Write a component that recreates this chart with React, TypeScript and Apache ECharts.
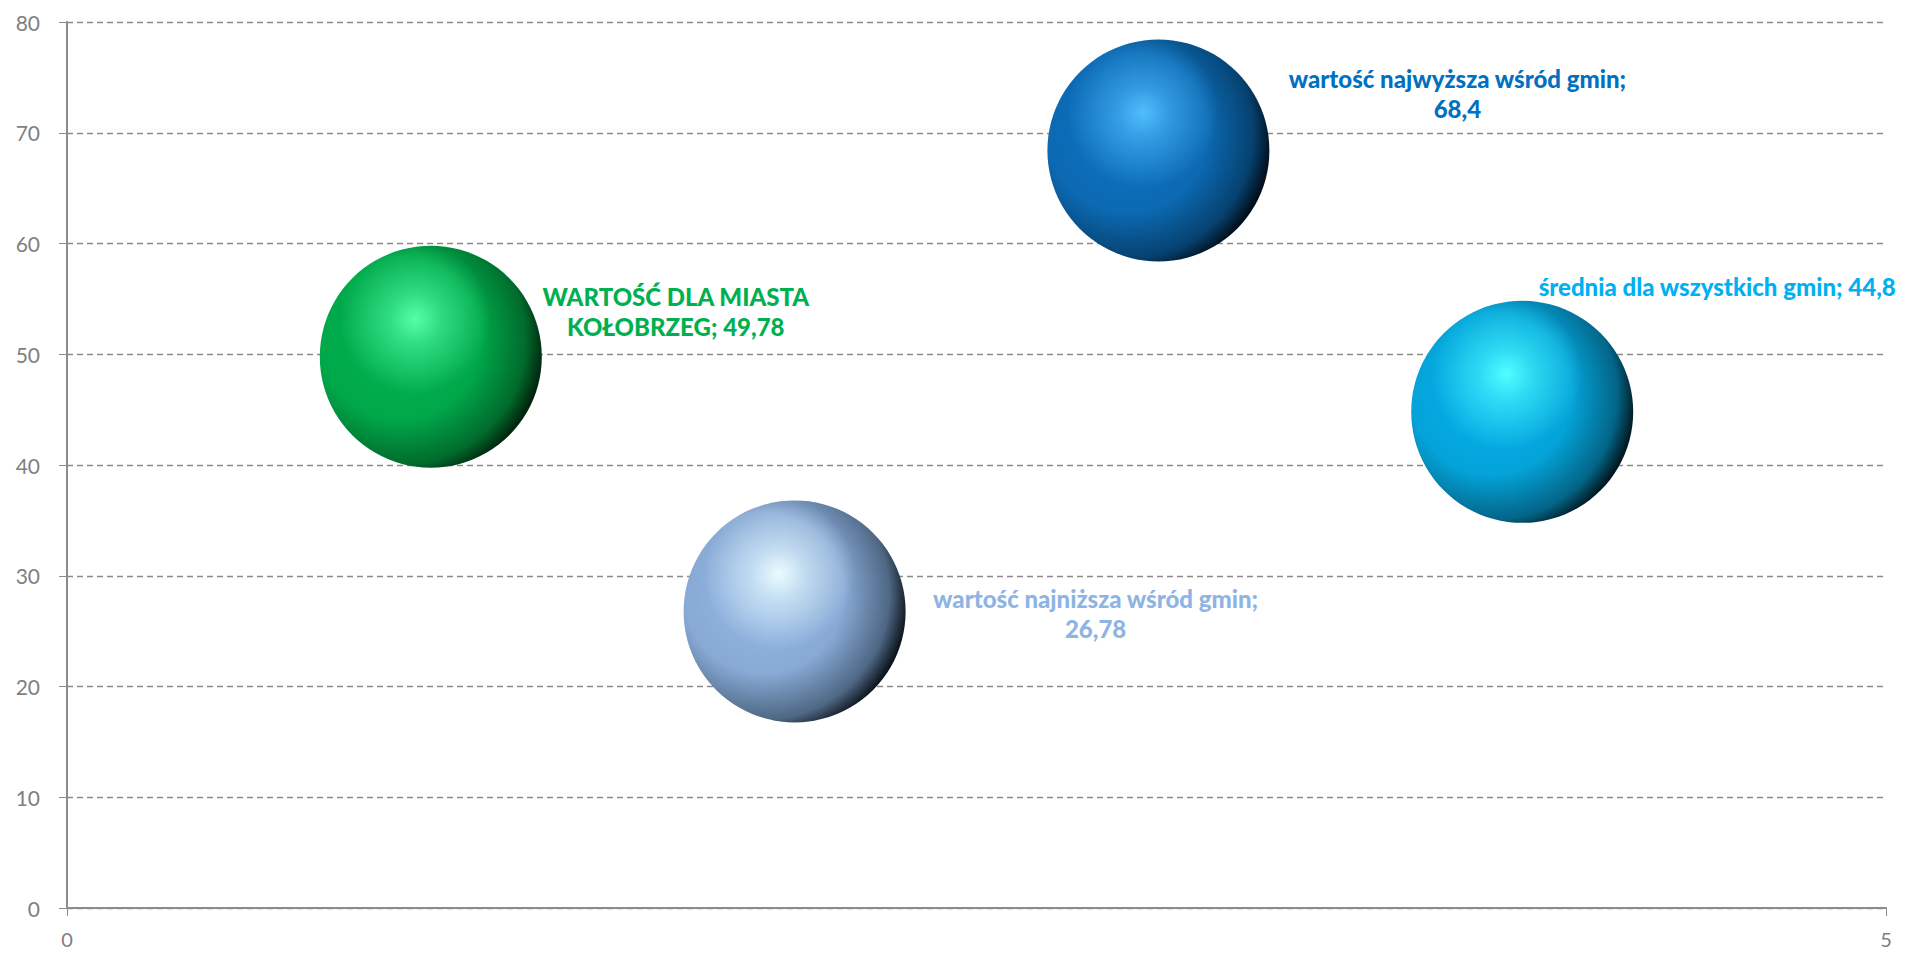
import React, { useEffect, useRef } from "react";
import * as echarts from "echarts";

// ---- data ----
const xValues = [1, 2, 3, 4];
const yValues = [49.78, 26.78, 68.4, 44.8];
const pointNames = [
  "WARTOŚĆ DLA MIASTA\nKOŁOBRZEG",
  "wartość najniższa wśród gmin",
  "wartość najwyższa wśród gmin",
  "średnia dla wszystkich gmin",
];
const nameValueSeparators = ["; ", ";\n", ";\n", "; "];
const yTicks = [0, 10, 20, 30, 40, 50, 60, 70, 80];
const xTicks = [0, 5];

// ---- styles ----
const baseColors = ["#00b050", "#8db4e2", "#0070c0", "#00b0f0"];
// body shading: base, mid, dark, rim
const bodyStops = [
  ["#00b350", "#00a84a", "#006b2c", "#00200b"],
  ["#96bbe8", "#87a9d4", "#4e6784", "#0a1017"],
  ["#0f74c4", "#0c69b2", "#06416f", "#010b15"],
  ["#04b3ee", "#04a3d9", "#036587", "#00131b"],
];
const highlightColors = ["85,255,170", "235,252,255", "80,190,255", "80,255,255"];
const labelOffsets = [
  [245, -45],
  [301, 2],
  [299, -57],
  [195, -125],
];

const fmt = (v: number) => String(v).replace(".", ",");

export default function App() {
  const ref = useRef<HTMLDivElement>(null);
  useEffect(() => {
    if (!ref.current) return;
    const chart = echarts.init(ref.current, undefined, { renderer: "svg" });
    const bodyData = xValues.map((x, i) => ({
      value: [x, yValues[i]],
      itemStyle: {
        opacity: 1,
        color: {
          type: "radial",
          x: 0.36,
          y: 0.42,
          r: 0.66,
          colorStops: [
            { offset: 0, color: bodyStops[i][0] },
            { offset: 0.55, color: bodyStops[i][1] },
            { offset: 0.86, color: bodyStops[i][2] },
            { offset: 1, color: bodyStops[i][3] },
          ],
          global: false,
        },
      },
      label: {
        show: true,
        position: "inside",
        offset: labelOffsets[i],
        color: baseColors[i],
        formatter: () => pointNames[i] + nameValueSeparators[i] + fmt(yValues[i]),
      },
    }));
    const highlightData = xValues.map((x, i) => ({
      value: [x, yValues[i]],
      itemStyle: {
        opacity: 1,
        color: {
          type: "radial",
          x: 0.43,
          y: 0.33,
          r: 0.34,
          colorStops: [
            { offset: 0, color: `rgba(${highlightColors[i]},1)` },
            { offset: 0.35, color: `rgba(${highlightColors[i]},0.55)` },
            { offset: 1, color: `rgba(${highlightColors[i]},0)` },
          ],
          global: false,
        },
      },
    }));
    chart.setOption({
      animation: false,
      backgroundColor: "#ffffff",
      grid: { left: 67, right: 26, top: 22, bottom: 45, containLabel: false },
      xAxis: {
        type: "value",
        min: xTicks[0],
        max: xTicks[xTicks.length - 1],
        interval: xTicks[1] - xTicks[0],
        splitLine: { show: false },
        axisLine: { show: true, lineStyle: { color: "#8c8c8c", width: 2 } },
        axisTick: { show: true, length: 8, lineStyle: { color: "#8c8c8c", width: 1 } },
        axisLabel: {
          color: "#7f7f7f",
          fontSize: 20,
          fontFamily: "Lato, sans-serif",
          margin: 21,
        },
      },
      yAxis: {
        type: "value",
        min: yTicks[0],
        max: yTicks[yTicks.length - 1],
        interval: yTicks[1] - yTicks[0],
        splitLine: {
          show: true,
          lineStyle: { color: "#8a8a8a", width: 1.4, type: [6, 4] },
        },
        axisLine: { show: true, lineStyle: { color: "#8c8c8c", width: 2 } },
        axisTick: { show: true, length: 8, lineStyle: { color: "#8c8c8c", width: 1 } },
        axisLabel: {
          color: "#7f7f7f",
          fontSize: 21,
          fontFamily: "Lato, sans-serif",
          margin: 27,
        },
      },
      series: [
        {
          type: "scatter",
          symbol: "circle",
          symbolSize: 222,
          data: bodyData,
          itemStyle: { opacity: 1 },
          label: {
            fontFamily: "Lato, sans-serif",
            fontWeight: 900,
            fontSize: 24,
            lineHeight: 30,
            align: "center",
            verticalAlign: "middle",
          },
          emphasis: { disabled: true },
          z: 2,
        },
        {
          type: "scatter",
          symbol: "circle",
          symbolSize: 222,
          data: highlightData,
          itemStyle: { opacity: 1 },
          silent: true,
          label: { show: false },
          emphasis: { disabled: true },
          z: 3,
        },
      ],
    });
    return () => chart.dispose();
  }, []);
  return (
    <div
      ref={ref}
      style={{ position: "fixed", left: 0, top: 0, width: "1912px", height: "953px" }}
    />
  );
}
